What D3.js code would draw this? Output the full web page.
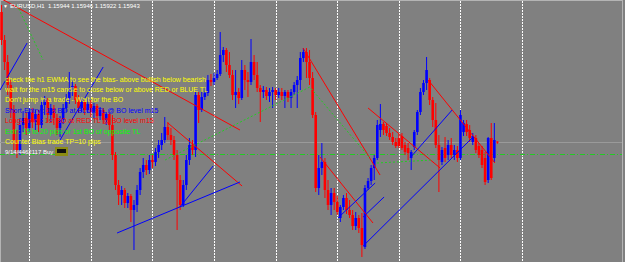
<!DOCTYPE html>
<html><head><meta charset="utf-8">
<script src="https://cdn.jsdelivr.net/npm/d3@7"></script>
<style>
html,body{margin:0;padding:0;background:#808080;overflow:hidden}
svg{display:block}
text{font-family:"Liberation Sans",Arial,sans-serif}
</style></head><body>
<svg id="chart"></svg>
<script>
// EURUSD H1 candles, [open, high, low, close]
const candles = [
 [1.1724,1.1731,1.1691,1.1696],[1.1696,1.1701,1.1666,1.1674],[1.1674,1.1681,1.1641,1.1651],[1.1651,1.1656,1.1618,1.1626],
 [1.1626,1.1631,1.1586,1.1596],[1.1596,1.1606,1.1578,1.1586],[1.1586,1.1618,1.1581,1.1611],[1.1611,1.1624,1.1604,1.1618],
 [1.1618,1.1624,1.1601,1.1608],[1.1608,1.1628,1.1604,1.1624],[1.1624,1.1628,1.1608,1.1614],[1.1614,1.1626,1.1606,1.1622],
 [1.1622,1.1626,1.1604,1.1611],[1.1611,1.1636,1.1608,1.1631],[1.1631,1.1640,1.1621,1.1636],[1.1636,1.1638,1.1614,1.1621],
 [1.1621,1.1632,1.1614,1.1628],[1.1628,1.1631,1.1611,1.1618],[1.1618,1.1622,1.1601,1.1608],[1.1608,1.1620,1.1599,1.1616],
 [1.1616,1.1632,1.1612,1.1628],[1.1628,1.1642,1.1624,1.1638],[1.1638,1.1664,1.1632,1.1646],[1.1646,1.1656,1.1640,1.1650],
 [1.1650,1.1652,1.1632,1.1636],[1.1636,1.1641,1.1623,1.1628],[1.1628,1.1638,1.1624,1.1634],[1.1634,1.1636,1.1621,1.1626],
 [1.1626,1.1638,1.1623,1.1632],[1.1632,1.1636,1.1619,1.1624],[1.1624,1.1633,1.1618,1.1630],[1.1630,1.1632,1.1616,1.1620],
 [1.1620,1.1629,1.1616,1.1626],[1.1626,1.1628,1.1612,1.1616],[1.1616,1.1624,1.1611,1.1622],[1.1622,1.1624,1.1606,1.1611],
 [1.1611,1.1621,1.1576,1.1581],[1.1581,1.1584,1.1546,1.1551],[1.1551,1.1556,1.1531,1.1541],[1.1541,1.1550,1.1531,1.1546],
 [1.1546,1.1548,1.1528,1.1533],[1.1533,1.1543,1.1528,1.1540],[1.1540,1.1542,1.1514,1.1526],[1.1526,1.1536,1.1486,1.1531],
 [1.1531,1.1551,1.1524,1.1546],[1.1546,1.1568,1.1541,1.1564],[1.1564,1.1578,1.1558,1.1571],[1.1571,1.1576,1.1561,1.1566],
 [1.1566,1.1581,1.1562,1.1576],[1.1576,1.1581,1.1568,1.1574],[1.1574,1.1588,1.1570,1.1584],[1.1584,1.1596,1.1578,1.1591],
 [1.1591,1.1603,1.1586,1.1596],[1.1596,1.1619,1.1593,1.1609],[1.1609,1.1614,1.1596,1.1601],[1.1601,1.1608,1.1591,1.1596],
 [1.1596,1.1600,1.1576,1.1581],[1.1581,1.1586,1.1506,1.1556],[1.1556,1.1561,1.1526,1.1531],[1.1531,1.1556,1.1529,1.1551],
 [1.1551,1.1581,1.1546,1.1576],[1.1576,1.1598,1.1571,1.1591],[1.1591,1.1596,1.1581,1.1586],[1.1586,1.1644,1.1579,1.1641],
 [1.1641,1.1644,1.1613,1.1626],[1.1626,1.1644,1.1624,1.1639],[1.1639,1.1648,1.1636,1.1643],[1.1643,1.1661,1.1640,1.1656],
 [1.1656,1.1662,1.1650,1.1654],[1.1654,1.1663,1.1651,1.1658],[1.1658,1.1666,1.1656,1.1662],[1.1662,1.1704,1.1660,1.1681],
 [1.1681,1.1689,1.1674,1.1686],[1.1686,1.1688,1.1664,1.1671],[1.1671,1.1684,1.1658,1.1661],[1.1661,1.1666,1.1636,1.1641],
 [1.1641,1.1666,1.1628,1.1644],[1.1644,1.1648,1.1632,1.1638],[1.1638,1.1676,1.1636,1.1666],[1.1666,1.1671,1.1646,1.1656],
 [1.1656,1.1664,1.1639,1.1654],[1.1654,1.1697,1.1651,1.1674],[1.1674,1.1681,1.1656,1.1661],[1.1661,1.1674,1.1644,1.1648],
 [1.1648,1.1651,1.1614,1.1644],[1.1644,1.1650,1.1638,1.1646],[1.1646,1.1649,1.1636,1.1640],[1.1640,1.1648,1.1634,1.1644],
 [1.1644,1.1649,1.1628,1.1646],[1.1646,1.1648,1.1636,1.1641],[1.1641,1.1648,1.1638,1.1644],[1.1644,1.1648,1.1636,1.1640],
 [1.1640,1.1646,1.1628,1.1644],[1.1644,1.1646,1.1634,1.1638],[1.1638,1.1647,1.1628,1.1644],[1.1644,1.1654,1.1641,1.1651],
 [1.1651,1.1660,1.1628,1.1656],[1.1656,1.1684,1.1646,1.1678],[1.1678,1.1688,1.1674,1.1684],[1.1684,1.1688,1.1658,1.1674],
 [1.1674,1.1686,1.1651,1.1658],[1.1658,1.1664,1.1618,1.1621],[1.1621,1.1624,1.1544,1.1548],[1.1548,1.1581,1.1541,1.1568],
 [1.1568,1.1593,1.1561,1.1574],[1.1574,1.1578,1.1538,1.1546],[1.1546,1.1556,1.1526,1.1531],[1.1531,1.1548,1.1521,1.1543],
 [1.1543,1.1548,1.1526,1.1534],[1.1534,1.1540,1.1521,1.1524],[1.1518,1.1531,1.1514,1.1529],[1.1529,1.1541,1.1526,1.1538],
 [1.1538,1.1543,1.1522,1.1526],[1.1526,1.1536,1.1518,1.1521],[1.1521,1.1526,1.1506,1.1510],[1.1510,1.1524,1.1506,1.1518],
 [1.1518,1.1521,1.1503,1.1508],[1.1508,1.1523,1.1479,1.1491],[1.1489,1.1551,1.1487,1.1548],[1.1548,1.1558,1.1546,1.1555],
 [1.1555,1.1571,1.1551,1.1568],[1.1568,1.1581,1.1556,1.1578],[1.1578,1.1616,1.1576,1.1611],[1.1606,1.1632,1.1599,1.1612],
 [1.1612,1.1614,1.1601,1.1606],[1.1610,1.1613,1.1600,1.1603],[1.1603,1.1608,1.1596,1.1599],[1.1599,1.1604,1.1591,1.1594],
 [1.1594,1.1598,1.1588,1.1590],[1.1598,1.1602,1.1588,1.1590],[1.1600,1.1603,1.1586,1.1588],[1.1591,1.1594,1.1581,1.1584],
 [1.1588,1.1593,1.1576,1.1583],[1.1578,1.1586,1.1566,1.1584],[1.1589,1.1606,1.1586,1.1604],[1.1604,1.1626,1.1601,1.1624],
 [1.1624,1.1648,1.1621,1.1644],[1.1644,1.1656,1.1641,1.1653],[1.1653,1.1679,1.1646,1.1666],[1.1656,1.1658,1.1631,1.1636],
 [1.1636,1.1639,1.1609,1.1616],[1.1616,1.1633,1.1588,1.1591],[1.1591,1.1601,1.1544,1.1576],[1.1574,1.1589,1.1571,1.1586],
 [1.1588,1.1599,1.1574,1.1578],[1.1581,1.1596,1.1576,1.1591],[1.1591,1.1598,1.1578,1.1581],[1.1581,1.1591,1.1576,1.1586],
 [1.1586,1.1590,1.1574,1.1578],[1.1578,1.1626,1.1576,1.1621],[1.1604,1.1616,1.1600,1.1613],[1.1612,1.1616,1.1600,1.1604],
 [1.1606,1.1611,1.1594,1.1598],[1.1594,1.1603,1.1591,1.1600],[1.1598,1.1601,1.1583,1.1586],[1.1590,1.1593,1.1578,1.1581],
 [1.1586,1.1590,1.1568,1.1571],[1.1578,1.1584,1.1551,1.1554],[1.1556,1.1599,1.1553,1.1598],[1.1598,1.1613,1.1556,1.1558],
 [1.1578,1.1613,1.1574,1.1596],[1.15944,1.15946,1.15922,1.15943]
];

// bar index of each day separator
const daySeparators = [9, 29, 49, 69, 89, 109, 129, 149, 169];

// trend lines, [barIndex1, price1, barIndex2, price2]
const redTrendLines = [
 [-0.5, 1.1738, 77.4, 1.1606],
 [54.0, 1.1613, 78.1, 1.1550],
 [97.9, 1.1688, 122.9, 1.1561],
 [103.4, 1.1579, 120.6, 1.1513],
 [119.0, 1.1628, 142.4, 1.1568],
 [138.5, 1.1656, 160.2, 1.1573]
];
const blueTrendLines = [
 [-0.5, 1.1646, 8.3, 1.1693],
 [19.0, 1.1596, 33.0, 1.1669],
 [37.5, 1.1503, 77.4, 1.1554],
 [57.9, 1.1529, 68.7, 1.1570],
 [109.2, 1.1518, 121.3, 1.1553],
 [117.4, 1.1519, 124.2, 1.1539],
 [117.4, 1.1490, 153.1, 1.1599],
 [132.6, 1.1578, 146.3, 1.1626]
];
const greenDotted = [
 [[5.0, 1.1731], [13.5, 1.1676]],
 [[53.1, 1.1576], [100.1, 1.1649], [119.6, 1.1578]],
 [[121.9, 1.1573], [140.1, 1.1576]]
];
const biasLevel = 1.1582;
const bidPrice = 1.15943;

const header = ["EURUSD,H1", "1.15944", "1.15946", "1.15922", "1.15943"];
const notes = [
 "check the h1 EWMA to see the bias- above bullish below bearish",
 "wait for the m15 candle to close below or above RED or BLUE TL",
 "Don't jump in a trade - Wait for the BO",
 "Short-Entry : 1st BO at BLUE TL @ BO level m15",
 "Long-Entry : 1st BO at RED TL @ BO level m15",
 "Exit : 15 to 20 pips or 1st BO of opposite TL",
 "Counter Bias trade TP=10 pips",
 "9/14/4462117 Buy"
];
const noteColors = ["#ffff00","#ffff00","#ffff00","#0000ff","#ff0000","#00ff00","#ffff00","#ffffff"];
const noteSizes = [7, 7, 7, 7, 7, 7, 7, 6];

const W = 625, H = 262;
const svg = d3.select("#chart").attr("width", W).attr("height", H);
svg.append("rect").attr("width", W).attr("height", H).attr("fill", "#808080");

const x = d3.scaleLinear().domain([0, candles.length - 1]).range([1.54, 1.54 + 3.08 * (candles.length - 1)]);
const y = d3.scaleLinear().domain([1.1474, 1.1736]).range([H, 0]);

// frame
svg.append("rect").attr("x", 0.5).attr("y", 0.5).attr("width", W - 3).attr("height", H)
  .attr("fill", "none").attr("stroke", "#b4b4b4");

// day separators
svg.selectAll(".sep").data(daySeparators).enter().append("line")
  .attr("x1", d => Math.round(x(d)) + 0.5).attr("x2", d => Math.round(x(d)) + 0.5)
  .attr("y1", 1).attr("y2", H)
  .attr("stroke", "#ffffff").attr("stroke-dasharray", "2,1");

// bid line
svg.append("line").attr("x1", 0).attr("x2", W - 3)
  .attr("y1", Math.round(y(bidPrice)) + 0.5).attr("y2", Math.round(y(bidPrice)) + 0.5)
  .attr("stroke", "#9a9a9a");

// bias level
svg.append("line").attr("x1", 0).attr("x2", W - 3)
  .attr("y1", Math.round(y(biasLevel)) + 0.5).attr("y2", Math.round(y(biasLevel)) + 0.5)
  .attr("stroke", "#22cc22").attr("stroke-dasharray", "5,2,1,2");

// candles
const bars = svg.append("g");
candles.forEach((c, i) => {
  const [o, h, l, cl] = c;
  const col = cl >= o ? "#0000ff" : "#ff0000";
  const cx = x(i);
  bars.append("line").attr("x1", cx).attr("x2", cx)
    .attr("y1", y(h)).attr("y2", y(l)).attr("stroke", col);
  const top = y(Math.max(o, cl));
  bars.append("rect").attr("x", cx - 1.3).attr("y", top)
    .attr("width", 2.6).attr("height", Math.max(1, Math.abs(y(o) - y(cl))))
    .attr("fill", col);
});

// trend lines
function drawLines(data, col) {
  svg.append("g").selectAll("line").data(data).enter().append("line")
    .attr("x1", d => x(d[0])).attr("y1", d => y(d[1]))
    .attr("x2", d => x(d[2])).attr("y2", d => y(d[3]))
    .attr("stroke", col).attr("stroke-width", 1);
}
drawLines(redTrendLines, "#ff0000");
drawLines(blueTrendLines, "#0000ff");

const path = d3.line().x(d => x(d[0])).y(d => y(d[1]));
svg.append("g").selectAll("path").data(greenDotted).enter().append("path")
  .attr("d", path).attr("fill", "none").attr("stroke", "#22cc22").attr("stroke-dasharray", "2,2");

// header
svg.append("text").attr("x", 3).attr("y", 8).attr("fill", "#ffffff")
  .attr("font-family", "DejaVu Sans").attr("font-size", 5).text("\u25BC");
svg.append("text").attr("x", 10).attr("y", 8).attr("fill", "#ffffff").attr("font-size", 6)
  .attr("xml:space", "preserve").text(header[0] + "  " + header.slice(1).join(" "));

// notes
svg.selectAll(".note").data(notes).enter().append("text")
  .attr("x", 5).attr("y", (d, i) => 81.5 + i * 10.4)
  .attr("fill", (d, i) => noteColors[i]).attr("font-size", (d, i) => noteSizes[i])
  .text(d => d);

// buy marker box
svg.append("rect").attr("x", 55).attr("y", 147).attr("width", 13).attr("height", 9).attr("fill", "#8c8c14");
svg.append("rect").attr("x", 57).attr("y", 149).attr("width", 9).attr("height", 4).attr("fill", "#101010");
</script>
</body></html>
